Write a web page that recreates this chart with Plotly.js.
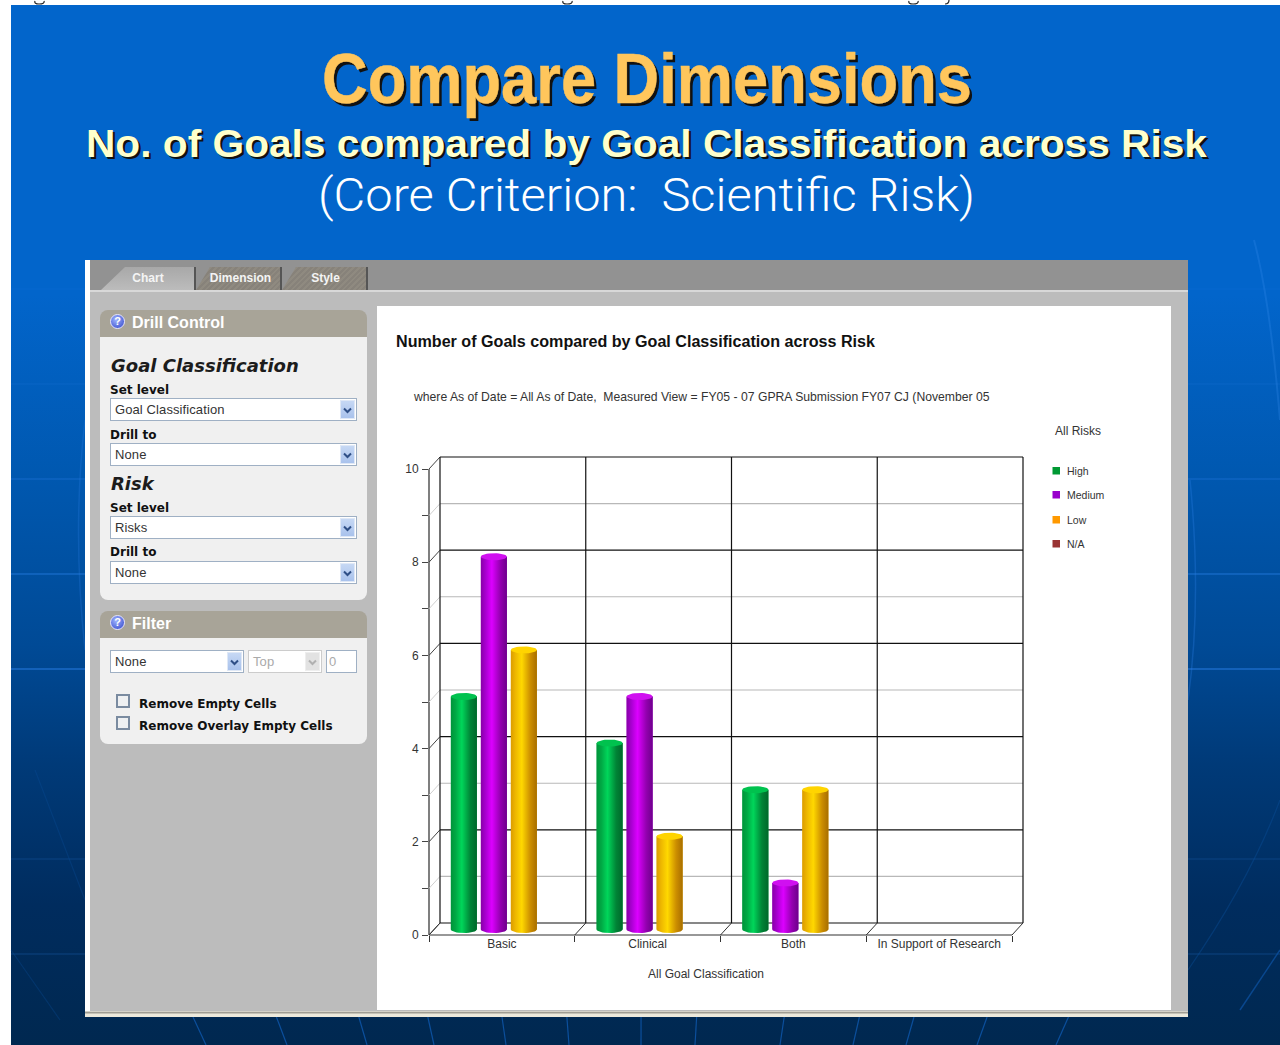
<!DOCTYPE html>
<html><head><meta charset="utf-8">
<script src="https://cdn.plot.ly/plotly-3.0.1.min.js"></script>
<style>
html,body{margin:0;padding:0;background:#fff;overflow:hidden}
#stage{position:relative;width:1280px;height:1045px;overflow:hidden;background:#fff}
.abs{position:absolute;white-space:nowrap}
#slide{left:11px;top:5px;width:1269px;height:1040px;background:linear-gradient(to bottom,#0265cb 0,#0265cb 290px,#0058b0 470px,#004a96 640px,#003a78 760px,#002c5e 900px,#002850 1040px)}
.hd{font-family:"Liberation Sans",Arial,sans-serif;transform-origin:0 50%;line-height:1}
.tab{font:bold 12px "Liberation Sans",Arial,sans-serif;color:#f4f4f4;text-align:center;line-height:22px}
.phead{background:#a8a498;color:#fff;font:bold 16px "Liberation Sans",Arial,sans-serif;border-radius:8px 8px 0 0;line-height:26px;padding-left:32px;box-sizing:border-box}
.pbody{background:#f0f0f0;border-radius:0 0 8px 8px}
.ic{width:15px;height:15px;border-radius:50%;background:radial-gradient(circle at 40% 35%,#9fb4ff,#3044c8);border:1px solid #e4e4ff;box-sizing:border-box;color:#fff;font:bold 11px "Liberation Sans",sans-serif;text-align:center;line-height:13px}
.big{font:italic bold 18px "DejaVu Sans",sans-serif;color:#1c1c1c}
.lab{font:bold 12px "DejaVu Sans",sans-serif;color:#111}
.sel{background:#fff;border:1px solid #9fb0c4;box-sizing:border-box;font:13px "Liberation Sans",sans-serif;color:#333;letter-spacing:.1px;padding-left:4px;line-height:21px}
.arr{background:linear-gradient(#c6d8f4,#a9c2ec);width:15px;border:1px solid #dfe8f6;box-sizing:border-box;text-align:center;line-height:15px}
.cb{width:14px;height:14px;border:2px solid #7a8ba0;background:#eef0f2;box-sizing:border-box}
</style></head><body>
<div id="stage">
  <div id="slide" class="abs"></div>
  <svg class="abs" style="left:0;top:0" width="1280" height="1045" id="deco"></svg>

  <div class="abs hd" id="h1" style="left:322px;top:44px;font-size:70px;font-weight:bold;color:#ffc65c;text-shadow:3px 3px 0 #111;-webkit-text-stroke:.5px #ffc65c">Compare Dimensions</div>
  <div class="abs hd" id="h2" style="left:86px;top:125px;font-size:38px;font-weight:bold;color:#ffffcc;text-shadow:2px 2px 0 #111">No. of Goals compared by Goal Classification across Risk</div>
  <div class="abs hd" id="h3" style="left:318px;top:172px;font-family:Roboto,sans-serif;font-weight:300;font-size:46px;color:#fff">(Core Criterion:&nbsp; Scientific Risk)</div>

  <div class="abs" style="left:85px;top:260px;width:1103px;height:757px;background:#fff"></div>
  <div class="abs" style="left:90px;top:260px;width:1098px;height:30px;background:#929292"></div>
  <div class="abs" style="left:90px;top:290px;width:1098px;height:722px;background:#bcbcbc;border-top:2px solid #d8d8d8;box-sizing:border-box"></div>
  <div class="abs tab" style="left:101px;top:267px;width:94px;height:23px;background:linear-gradient(#a8a8a8,#bcbcbc);clip-path:polygon(0 100%,24px 0,100% 0,100% 100%)"><span style="position:relative;left:0">Chart</span></div>
  <div class="abs" style="left:194px;top:267px;width:1.5px;height:23px;background:#555"></div>
  <div class="abs tab" style="left:196px;top:267px;width:85px;height:23px;background:repeating-linear-gradient(135deg,#87827a,#87827a 2px,#8f8a80 2px,#8f8a80 4px);clip-path:polygon(0 100%,14px 0,100% 0,100% 100%)"><span style="position:relative;left:2px">Dimension</span></div>
  <div class="abs" style="left:280px;top:267px;width:1.5px;height:23px;background:#555"></div>
  <div class="abs tab" style="left:282px;top:267px;width:85px;height:23px;background:repeating-linear-gradient(135deg,#87827a,#87827a 2px,#8f8a80 2px,#8f8a80 4px);clip-path:polygon(0 100%,14px 0,100% 0,100% 100%)"><span style="position:relative;left:1px">Style</span></div>
  <div class="abs" style="left:366px;top:267px;width:1.5px;height:23px;background:#555"></div>

  <div class="abs" style="left:85px;top:1011px;width:1103px;height:6px;background:linear-gradient(#efece2,#8f8d84 30%,#ece9dc 50%,#ece9dc)"></div>
  <div class="abs" style="left:377px;top:306px;width:794px;height:704px;background:#fff"></div>

  <div class="abs phead" style="left:100px;top:310px;width:267px;height:27px">Drill Control</div>
  <div class="abs ic" style="left:110px;top:314px">?</div>
  <div class="abs pbody" style="left:100px;top:337px;width:267px;height:263px"></div>
  <div class="abs big" style="left:111px;top:355px">Goal Classification</div>
  <div class="abs lab" style="left:110px;top:383px">Set level</div>
  <div class="abs sel" style="left:110px;top:398px;width:247px;height:23px">Goal Classification</div>
  <div class="abs arr" style="left:340px;top:400px;height:19px"></div>
  <div class="abs lab" style="left:110px;top:428px">Drill to</div>
  <div class="abs sel" style="left:110px;top:443px;width:247px;height:23px">None</div>
  <div class="abs arr" style="left:340px;top:445px;height:19px"></div>
  <div class="abs big" style="left:111px;top:473px">Risk</div>
  <div class="abs lab" style="left:110px;top:501px">Set level</div>
  <div class="abs sel" style="left:110px;top:516px;width:247px;height:23px">Risks</div>
  <div class="abs arr" style="left:340px;top:518px;height:19px"></div>
  <div class="abs lab" style="left:110px;top:545px">Drill to</div>
  <div class="abs sel" style="left:110px;top:561px;width:247px;height:23px">None</div>
  <div class="abs arr" style="left:340px;top:563px;height:19px"></div>

  <div class="abs phead" style="left:100px;top:611px;width:267px;height:27px">Filter</div>
  <div class="abs ic" style="left:110px;top:615px">?</div>
  <div class="abs pbody" style="left:100px;top:638px;width:267px;height:106px"></div>
  <div class="abs sel" style="left:110px;top:650px;width:134px;height:23px">None</div>
  <div class="abs arr" style="left:227px;top:652px;height:19px"></div>
  <div class="abs sel" style="left:248px;top:650px;width:74px;height:23px;color:#aaa;border-color:#ccc">Top</div>
  <div class="abs arr dim" style="left:305px;top:652px;height:19px;background:#e2e2e2;border-color:#eee"></div>
  <div class="abs sel" style="left:326px;top:650px;width:31px;height:23px;color:#aaa;padding-left:2px">0</div>
  <div class="abs cb" style="left:116px;top:694px"></div>
  <div class="abs cb" style="left:116px;top:716px"></div>
  <div class="abs lab" style="left:139px;top:697px">Remove Empty Cells</div>
  <div class="abs lab" style="left:139px;top:719px">Remove Overlay Empty Cells</div>

  <div id="chart" class="abs" style="left:0;top:0;width:1280px;height:1045px"></div>
</div>
<script>
// ---- chart data ----
const categories = ["Basic", "Clinical", "Both", "In Support of Research"];
const seriesNames = ["High", "Medium", "Low", "N/A"];
const high   = [5, 4, 3, null];
const medium = [8, 5, 1, null];
const low    = [6, 2, 3, null];
const na     = [null, null, null, null];
const legendColors = ["#009933", "#9900cc", "#ff9900", "#993333"];
const barEdge = ["#00a844", "#a000c8", "#e0a800", "#993333"];
const yTicks = [0,1,2,3,4,5,6,7,8,9,10];
const yLabels = ["0","","2","","4","","6","","8","","10"];
const chartTitle = "Number of Goals compared by Goal Classification across Risk";
const chartSubtitle = "where As of Date = All As of Date,&nbsp; Measured View = FY05 - 07 GPRA Submission FY07 CJ (November 05";
const xTitle = "All Goal Classification";
const legendTitle = "All Risks";

// ---- slide headings fitted to their measured width ----
function fit(id, w){const e=document.getElementById(id);const r=w/e.getBoundingClientRect().width;e.style.transform='scaleX('+r+')';}
fit('h1',650);fit('h2',1121);fit('h3',657);

// ---- drop-down chevrons ----
document.querySelectorAll('.arr').forEach(a=>{
  const c=a.classList.contains('dim')?'#b0b0b0':'#2f4f86';
  a.innerHTML=`<svg width="9" height="7" style="vertical-align:middle"><path d="M1 1.5L4.5 5L8 1.5" fill="none" stroke="${c}" stroke-width="2"/></svg>`;
});

// ---- slide decoration ----
(function(){
  let s='';
  [[289,.10],[384,.16],[479,.32],[574,.5],[669,.62],[859,.16],[954,.2]].forEach(([y,o])=>{s+=`<line x1="11" x2="1280" y1="${y}" y2="${y}" stroke="#2a80e8" stroke-opacity="${o}" stroke-width="1.5"/>`});
  [206,287,367,434,506,569,641,695,780,853,906,977,1056].forEach(x=>{const vx=640,vy=1980,y0=1017,y1=1045;const k=(y0-vy)/(y1-vy);const x0=vx+(x-vx)*k;s+=`<line x1="${x0}" y1="${y0}" x2="${x}" y2="${y1}" stroke="#0b4f9c" stroke-width="1.2"/>`});
  s+=`<path d="M1190 480 Q1202 600 1188 700" fill="none" stroke="#2a80e8" stroke-opacity=".3" stroke-width="1.5"/>`;
  s+=`<path d="M1254 240 Q1270 300 1280 420" fill="none" stroke="#3a90f0" stroke-opacity=".25" stroke-width="2"/>`;
  s+=`<path d="M1188 970 Q1250 880 1280 800" fill="none" stroke="#0b4f9c" stroke-opacity=".4" stroke-width="1.2"/>`;
  s+=`<path d="M1240 1010 L1280 950" fill="none" stroke="#0b4f9c" stroke-opacity=".8" stroke-width="1.5"/>`;
  s+=`<path d="M85 650 Q72 530 85 420" fill="none" stroke="#2a80e8" stroke-opacity=".25" stroke-width="1.5"/>`;
  s+=`<path d="M11 950 L60 1020 M35 770 L85 900" fill="none" stroke="#0b4f9c" stroke-opacity=".3" stroke-width="1.2"/>`;
  // tails of the page text above the slide
  s+=`<path d="M35 1 Q34 4 39 4 Q45 4 44 1 M563 1 Q562 4 567 4 Q573 4 572 1 M909 1 Q908 4 913 4 Q919 4 918 1 M945 4 Q949 4 949 0" fill="none" stroke="#222" stroke-width="1.2"/>`;
  document.getElementById('deco').innerHTML=s;
})();

// ---- pixel frame of the plot ----
const W=1280,H=1045;
const pxX0=429, pxY0=935, pxPerCat=145.75, pxPerUnit=46.6;
const pxRight=1032, pxTop=450;
const xRange=[-0.5,-0.5+(pxRight-pxX0)/pxPerCat];
const yRange=[0,(pxY0-pxTop)/pxPerUnit];
const dx=11/pxPerCat, dy=12/pxPerUnit;          // depth of the 3-D box
const base=5.5/pxPerUnit;                        // bars stand mid-depth
const barW=26/pxPerCat, rx=barW/2, ry=3.5/pxPerUnit;
const barOff=[-51,-21,9,39].map(p=>p/pxPerCat); // slot offsets of the four risks

const ramps=[
 [[0,"#00943a"],[0.18,"#00a844"],[0.42,"#00d65a"],[0.75,"#008436"],[1,"#00682a"]],
 [[0,"#8800a8"],[0.18,"#a800d0"],[0.42,"#dc00ff"],[0.75,"#9400b0"],[1,"#6e008c"]],
 [[0,"#dc9c00"],[0.18,"#eeb800"],[0.42,"#ffd800"],[0.75,"#cc8e00"],[1,"#a86e00"]],
 [[0,"#993333"],[1,"#993333"]]
];
const capColors=["#00c24e","#d010f0","#ffd400","#993333"];
const allValues=[high,medium,low,na];

const traces=[];
allValues.forEach((vals,s)=>{
  traces.push({type:'bar',name:seriesNames[s],x:categories,y:vals,base:base,width:barW,offset:barOff[s],
    marker:{color:barEdge[s]},showlegend:false,hovertemplate:'%{x}<br>'+seriesNames[s]+': %{customdata}<extra></extra>',customdata:vals});
});
allValues.forEach((vals,s)=>{
  vals.forEach((v,i)=>{
    if(v===null) return;
    const L=i+barOff[s], R=L+barW, C=(L+R)/2, T=base+v, B=base;
    const bx=[L,R], by=[T,T];
    for(let a=0;a<=16;a++){const t=Math.PI*a/16;bx.push(C+rx*Math.cos(t));by.push(B-ry*Math.sin(t));}
    bx.push(L);by.push(T);
    traces.push({type:'scatter',mode:'lines',xaxis:'x2',yaxis:'y',x:bx,y:by,fill:'toself',line:{width:0},
      fillcolor:capColors[s],fillgradient:{type:'horizontal',colorscale:ramps[s]},hoverinfo:'skip',showlegend:false});
    const cx=[],cy=[];
    for(let a=0;a<=32;a++){const t=2*Math.PI*a/32;cx.push(C+rx*Math.cos(t));cy.push(T+ry*Math.sin(t));}
    traces.push({type:'scatter',mode:'lines',xaxis:'x2',yaxis:'y',x:cx,y:cy,fill:'toself',line:{width:0},
      fillcolor:capColors[s],hoverinfo:'skip',showlegend:false});
  });
});

// ---- 3-D box drawn through the axes ----
const shapes=[];
const ln=(xref,yref,x0,y0,x1,y1,c,w)=>shapes.push({type:'line',layer:'below',xref,yref,x0,y0,x1,y1,line:{color:c,width:w||1}});
yTicks.forEach(v=>{
  const major=v%2===0;
  ln('x','y',-0.5+dx,v+dy,3.5+dx,v+dy,major?'#111111':'#b8b8b8',major?1.2:1.1);
  ln('x','y',-0.5,v,-0.5+dx,v+dy,major?'#444444':'#cfcfcf',1);
});
categories.concat(['']).forEach((c,k)=>{
  ln('x','y',-0.5+k+dx,dy,-0.5+k+dx,10+dy,'#111111',1.2);
  ln('x','y',-0.5+k,0,-0.5+k+dx,dy,'#333333',1);
});
ln('paper','y',pxX0/W,0,pxX0/W,10,'#555555',1.5);
ln('x','paper',-0.5,1-pxY0/H,3.5,1-pxY0/H,'#333333',1.2);

// ---- legend: small keys with close labels ----
const annFont=(size)=>({family:'"Liberation Sans",Arial,sans-serif',size,color:'#333'});
const annotations=[
 {text:chartSubtitle,xref:'paper',yref:'paper',x:410.5/W,y:1-397/H,xanchor:'left',yanchor:'middle',showarrow:false,font:annFont(12.2)},
 {text:xTitle,xref:'paper',yref:'paper',x:706/W,y:1-973.5/H,xanchor:'center',yanchor:'middle',showarrow:false,font:annFont(12)},
 {text:legendTitle,xref:'paper',yref:'paper',x:1053/W,y:1-431/H,xanchor:'left',yanchor:'middle',showarrow:false,font:annFont(12)}
];
const legendY=[471,495,520,544];
seriesNames.forEach((n,s)=>{
  annotations.push({text:n,xref:'paper',yref:'paper',x:1065/W,y:1-(legendY[s]-0.5)/H,xanchor:'left',yanchor:'middle',showarrow:false,font:annFont(10.5)});
  shapes.push({type:'rect',layer:'above',xref:'paper',yref:'paper',x0:1052.5/W,x1:1060/W,y0:1-(legendY[s]-4)/H,y1:1-(legendY[s]+3.5)/H,fillcolor:legendColors[s],line:{width:0}});
});

const layout={
  width:W,height:H,margin:{l:0,r:0,t:0,b:0,pad:0},paper_bgcolor:'rgba(0,0,0,0)',plot_bgcolor:'rgba(0,0,0,0)',
  showlegend:false,barmode:'overlay',hovermode:'closest',
  font:{family:'"Liberation Sans",Arial,sans-serif',size:12,color:'#333'},
  title:{text:chartTitle,xref:'paper',yref:'paper',x:396/W,xanchor:'left',y:1-341/H,yanchor:'middle',font:{family:'"Liberation Sans",Arial,sans-serif',size:16.13,weight:700,color:'#111'}},
  xaxis:{type:'category',categoryorder:'array',categoryarray:categories,domain:[pxX0/W,pxRight/W],range:xRange,fixedrange:true,ticklabelstandoff:1.5,
    showgrid:false,zeroline:false,showline:false,ticks:'outside',tickson:'boundaries',ticklen:6,tickcolor:'#333',tickwidth:1.2,tickfont:{size:12,color:'#333'},anchor:'y'},
  xaxis2:{type:'linear',overlaying:'x',range:xRange,visible:false,fixedrange:true,anchor:'y'},
  yaxis:{type:'linear',domain:[1-pxY0/H,1-pxTop/H],range:yRange,fixedrange:true,tickmode:'array',tickvals:yTicks,ticktext:yLabels,ticklabelstandoff:1,
    showgrid:false,zeroline:false,showline:false,ticks:'outside',ticklen:6,tickcolor:'#444',tickwidth:1.2,tickfont:{size:12,color:'#333'},anchor:'x'},
  shapes,annotations
};
Plotly.newPlot('chart',traces,layout,{displayModeBar:false,responsive:false});
</script>
</body></html>
